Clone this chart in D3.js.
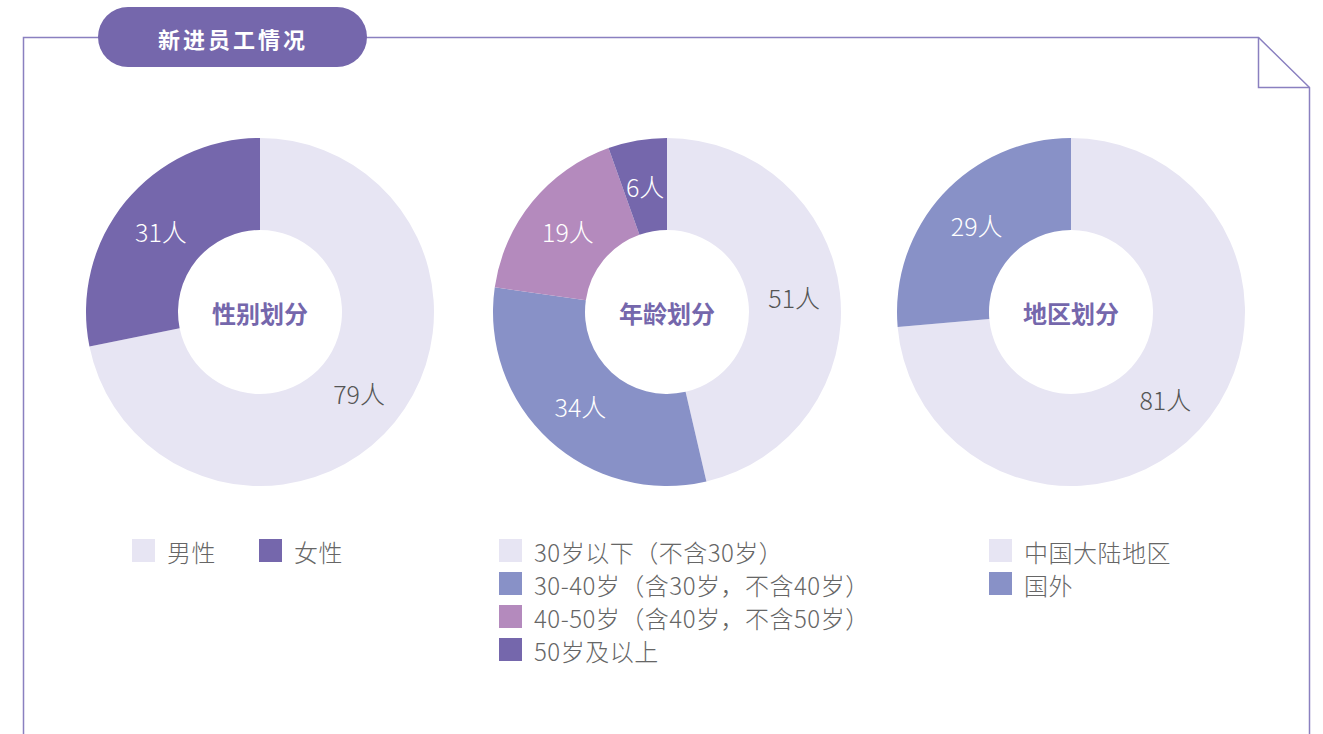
<!DOCTYPE html>
<html lang="zh">
<head>
<meta charset="UTF-8">
<title>新进员工情况</title>
<script src="https://d3js.org/d3.v7.min.js"></script>
<style>
  body { margin: 0; background: #fff; }
  svg text { font-family: "Noto Sans CJK SC", "Noto Sans", sans-serif; }
</style>
</head>
<body>
<div id="chart"></div>
<script>
// data
var title = "新进员工情况";

var genderCats = ["男性", "女性"];
var genderVals = [79, 31];

var ageCats = ["30岁以下（不含30岁）", "30-40岁（含30岁，不含40岁）", "40-50岁（含40岁，不含50岁）", "50岁及以上"];
var ageVals = [51, 34, 19, 6];

var regionCats = ["中国大陆地区", "国外"];
var regionVals = [81, 29];

var light = "#e7e5f3", purple = "#7567ac", blue = "#8891c7", pink = "#b48abd";
var lineColor = "#8a80c0";

var W = 1323, H = 734;
var svg = d3.select("#chart").append("svg")
    .attr("width", W)
    .attr("height", H);

// frame with folded corner
var frame = d3.path();
frame.moveTo(23.5, H);
frame.lineTo(23.5, 37.5);
frame.lineTo(1258.5, 37.5);
frame.lineTo(1309.5, 87.5);
frame.lineTo(1309.5, H);
svg.append("path").attr("d", frame.toString())
    .attr("fill", "none").attr("stroke", lineColor).attr("stroke-width", 1.5);
var fold = d3.path();
fold.moveTo(1258.5, 37.5);
fold.lineTo(1258.5, 87.5);
fold.lineTo(1309.5, 87.5);
svg.append("path").attr("d", fold.toString())
    .attr("fill", "none").attr("stroke", lineColor).attr("stroke-width", 1.5);

// title pill
svg.append("rect")
    .attr("x", 98).attr("y", 7).attr("width", 269).attr("height", 60)
    .attr("rx", 30).attr("ry", 30)
    .attr("fill", purple);
svg.append("text")
    .attr("x", 233).attr("y", 38)
    .attr("text-anchor", "middle").attr("dominant-baseline", "central")
    .attr("fill", "#fff").attr("font-size", 22).attr("font-weight", "bold")
    .attr("letter-spacing", 3)
    .text(title);

var pie = d3.pie().sort(null).value(function (d) { return d.value; });
var arc = d3.arc().innerRadius(82).outerRadius(174);

function donut(cx, cy, name, cats, vals, colors, legend) {
    var data = cats.map(function (c, i) { return {name: c, value: vals[i], color: colors[i]}; });
    var g = svg.append("g").attr("transform", "translate(" + cx + "," + cy + ")");

    g.selectAll("path")
        .data(pie(data))
        .enter().append("path")
        .attr("d", arc)
        .attr("fill", function (d) { return d.data.color; });

    g.selectAll(".lbl")
        .data(pie(data))
        .enter().append("text")
        .attr("class", "lbl")
        .attr("transform", function (d) { return "translate(" + arc.centroid(d) + ")"; })
        .attr("text-anchor", "middle").attr("dominant-baseline", "central")
        .attr("font-size", 25).attr("font-weight", 300)
        .attr("fill", function (d) { return d.data.color === light ? "#555" : "#fff"; })
        .text(function (d) { return d.data.value + "人"; });

    g.append("text")
        .attr("text-anchor", "middle").attr("dominant-baseline", "central")
        .attr("font-size", 24).attr("font-weight", "bold")
        .attr("fill", purple)
        .text(name);

    var items = svg.selectAll(null)
        .data(data)
        .enter().append("g")
        .attr("transform", function (d, i) {
            return "translate(" + (legend.x + i * legend.dx) + "," + (legend.y + i * legend.dy) + ")";
        });
    items.append("rect")
        .attr("width", 23).attr("height", 23)
        .attr("fill", function (d) { return d.color; });
    items.append("text")
        .attr("x", 35).attr("y", 12)
        .attr("dominant-baseline", "central")
        .attr("font-size", 24).attr("font-weight", 300)
        .attr("letter-spacing", 0.5)
        .attr("fill", "#666")
        .text(function (d) { return d.name; });
}

donut(260, 312, "性别划分", genderCats, genderVals, [light, purple], {x: 132, y: 539, dx: 127, dy: 0});
donut(667, 312, "年龄划分", ageCats, ageVals, [light, blue, pink, purple], {x: 499, y: 539, dx: 0, dy: 33});
donut(1071, 312, "地区划分", regionCats, regionVals, [light, blue], {x: 989, y: 539, dx: 0, dy: 33});
</script>
</body>
</html>
